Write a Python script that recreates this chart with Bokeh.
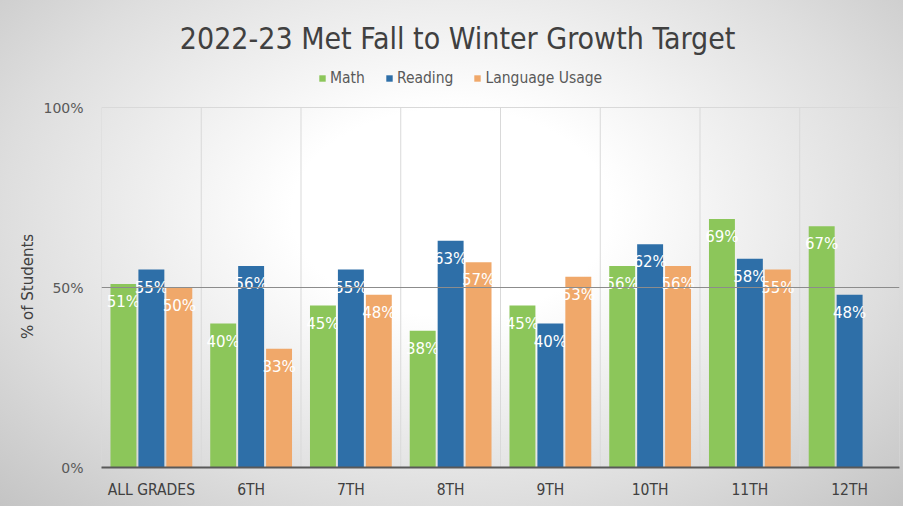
from bokeh.plotting import figure
from bokeh.models import (ColumnDataSource, FixedTicker, Legend, LegendItem, Span, Label)
from bokeh.core.properties import value
from bokeh.embed import file_html
from bokeh.resources import INLINE

categories = ["ALL GRADES", "6TH", "7TH", "8TH", "9TH", "10TH", "11TH", "12TH"]
math = [51, 40, 45, 38, 45, 56, 69, 67]
reading = [55, 56, 55, 63, 40, 62, 58, 48]
language = [50, 33, 48, 57, 53, 56, 55, None]
y_ticks = [0, 50, 100]
y_tick_labels = ["0%", "50%", "100%"]
title_text = "2022-23 Met Fall to Winter Growth Target"
y_title = "% of Students"
series_names = ["Math", "Reading", "Language Usage"]
colors = ["#8cc65a", "#2e6fa8", "#f0a86a"]

NARROW = "DejaVu Sans Condensed, Liberation Sans"
SANS = "DejaVu Sans"

W, H = 903, 506
BOTTOM = 39
PX_PER_PCT = 3.6
frame_h = H - BOTTOM
y_top = frame_h / PX_PER_PCT  # frame extends above 100% to hold title and legend

p = figure(width=W, height=H, x_range=(0, len(categories)), y_range=(0, y_top),
           output_backend="svg", toolbar_location=None, title_location=None,
           min_border_left=101, min_border_right=4, min_border_top=0, min_border_bottom=BOTTOM)
p.border_fill_color = None
p.background_fill_color = None
p.outline_line_color = None
p.styles = {"background": "radial-gradient(ellipse at 50% 42%, #ffffff 25%, #dedede 70%, #c4c4c4 100%)"}

# category separators (vertical grid) from 0% to 100%
bounds = list(range(0, len(categories) + 1))
p.segment(x0=bounds, y0=[0] * len(bounds), x1=bounds, y1=[100] * len(bounds),
          line_color="#d9d9d9", line_width=1)
p.add_layout(Span(location=100, dimension="width", line_color="#d9d9d9", line_width=1))
p.add_layout(Span(location=50, dimension="width", line_color="#8c8c8c", line_width=1))

offsets = [-0.28, 0.0, 0.28]
series = [math, reading, language]
renderers = []
for name, vals, off, col in zip(series_names, series, offsets, colors):
    xs, ys, labels = [], [], []
    for i, v in enumerate(vals):
        if v is None:
            continue
        xs.append(i + 0.5 + off)
        ys.append(v)
        labels.append(f"{v}%")
    src = ColumnDataSource(dict(x=xs, top=ys, lab=labels))
    r = p.vbar(x="x", top="top", width=0.26, source=src, fill_color=col, line_color=None)
    renderers.append(r)
    p.text(x="x", y="top", text="lab", source=src, y_offset=18,
           text_align="center", text_baseline="middle", text_color="white",
           text_font=value(SANS), text_font_size="15px")

# title (inside the extended frame, above the 100% line)
p.add_layout(Label(x=3.57, y=119.2, text=title_text, text_align="center", text_baseline="middle",
                   text_font=NARROW, text_font_size="30px", text_color="#404040"))

# axes
p.xaxis.ticker = FixedTicker(ticks=[i + 0.5 for i in range(len(categories))])
p.xaxis.major_label_overrides = {i + 0.5: c for i, c in enumerate(categories)}
p.xaxis.major_label_text_font = NARROW
p.xaxis.major_label_text_font_size = "15.5px"
p.xaxis.major_label_text_color = "#404040"
p.xaxis.major_label_standoff = 7
p.xaxis.axis_line_color = "#595959"
p.xaxis.axis_line_width = 2
p.xaxis.major_tick_line_color = None
p.xaxis.minor_tick_line_color = None

p.yaxis.ticker = FixedTicker(ticks=y_ticks)
p.yaxis.bounds = (0, 100)
p.yaxis.major_label_overrides = {t: l for t, l in zip(y_ticks, y_tick_labels)}
p.yaxis.major_label_text_font = SANS
p.yaxis.major_label_text_font_size = "14px"
p.yaxis.major_label_text_color = "#595959"
p.yaxis.major_label_standoff = 12
p.yaxis.axis_line_color = None
p.yaxis.major_tick_line_color = None
p.yaxis.minor_tick_line_color = None
# trailing no-break spaces keep the rotated title centred on the 0-100% span, not the whole frame
p.yaxis.axis_label = y_title + "\u00a0" * 22
p.yaxis.axis_label_text_font = SANS
p.yaxis.axis_label_text_font_style = "normal"
p.yaxis.axis_label_text_font_size = "15px"
p.yaxis.axis_label_text_color = "#404040"
p.yaxis.axis_label_standoff = 3

p.xgrid.grid_line_color = None
p.ygrid.grid_line_color = None

items = [LegendItem(label=n, renderers=[r]) for n, r in zip(series_names, renderers)]
legend = Legend(items=items, orientation="horizontal", location=(217, 380),
                glyph_width=8, glyph_height=8, spacing=20, label_standoff=4, label_height=18,
                label_text_font=NARROW, label_text_font_size="15.5px", label_text_color="#595959",
                background_fill_alpha=0, border_line_color=None, padding=3, margin=0)
p.add_layout(legend)

open("out.html", "w").write(file_html(p, INLINE))
